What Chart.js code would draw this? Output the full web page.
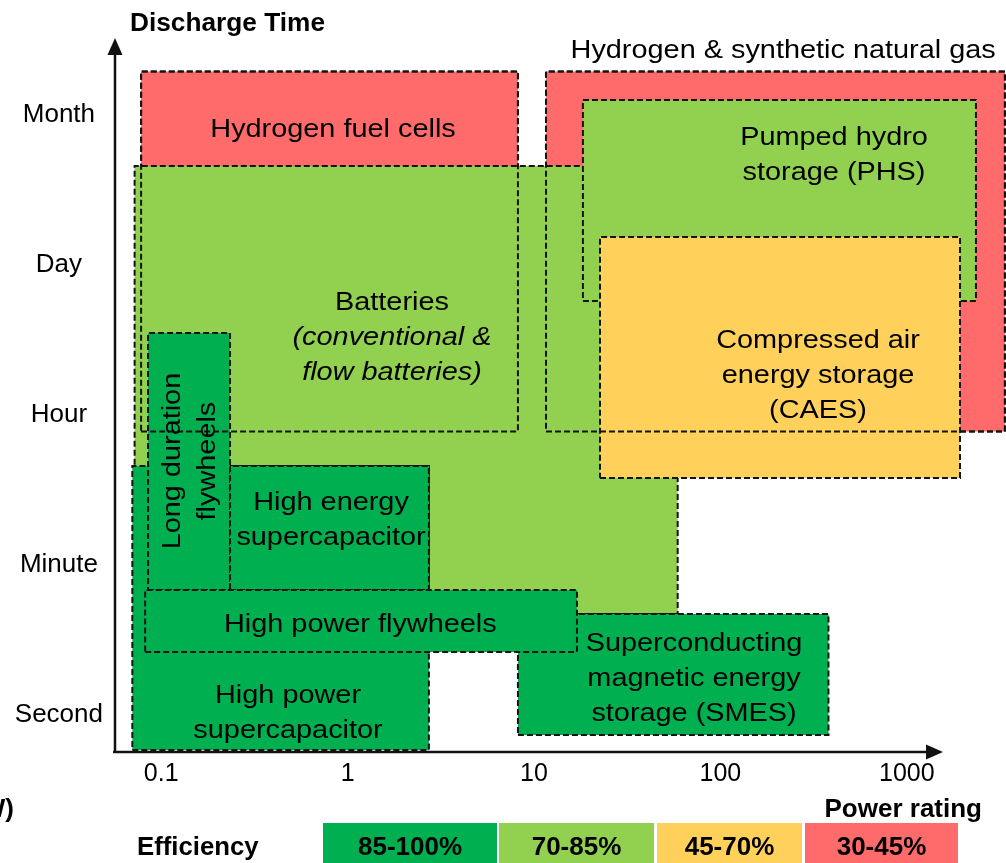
<!DOCTYPE html>
<html>
<head>
<meta charset="utf-8">
<script src="https://cdn.jsdelivr.net/npm/chart.js@4.4.1/dist/chart.umd.min.js"></script>
<style>
  html, body { margin: 0; padding: 0; background: #fff; overflow: hidden; }
  #container-storage { width: 1006px; height: 863px; position: relative; }
</style>
</head>
<body>
<div id="container-storage"><canvas id="chart-storage"></canvas></div>
<script>
// discharge time categories (y) and power rating ticks in MW (x, log)
const time_labels = ['Second', 'Minute', 'Hour', 'Day', 'Month']
const power_ticks = [0.1, 1, 10, 100, 1000]
const power_labels = ['0.1', '1', '10', '100', '1000']

// technologies, in drawing order (later ones cover earlier ones)
const techs = ['Hydrogen fuel cells', 'Hydrogen & synthetic natural gas', 'Batteries',
  'Pumped hydro storage (PHS)', 'Compressed air energy storage (CAES)', 'High power supercapacitor',
  'Long duration flywheels', 'High energy supercapacitor', 'Superconducting magnetic energy storage (SMES)',
  'High power flywheels']
const power_min = [0.078, 11.6, 0.072, 18.3, 22.6, 0.07, 0.085, 0.234, 8.2, 0.082]
const power_max = [8.2, 3360, 59, 2350, 1930, 2.73, 0.234, 2.73, 380, 17]
const time_min = [1.87, 1.87, 0.653, 2.74, 1.56, -0.253, 0.813, 0.813, -0.153, 0.40]
const time_max = [4.27, 4.27, 3.64, 4.08, 3.167, 1.64, 2.527, 1.64, 0.653, 0.813]
const efficiency_class = [3, 3, 1, 1, 2, 0, 0, 0, 0, 0]
const efficiency_labels = ['85-100%', '70-85%', '45-70%', '30-45%']
// outlines that sit on top of everything
const outline_on_top = [0, 1]

const eff_colors = ['#00B050', '#92D050', '#FFD05A', '#FF6B6B']
const FONT = '"Liberation Sans", Arial, sans-serif'

// where the text of each box goes (MW, time units)
const box_texts = [
  {lines: ['Hydrogen fuel cells'], x: 0.835, y: 3.9},
  {lines: ['Hydrogen & synthetic natural gas'], x: 217, y: 4.427},
  {lines: ['Batteries', '(conventional &', 'flow batteries)'], italic: [false, true, true], x: 1.73, y: 2.509},
  {lines: ['Pumped hydro', 'storage (PHS)'], x: 407, y: 3.727},
  {lines: ['Compressed air', 'energy storage', '(CAES)'], x: 334, y: 2.26},
  {lines: ['High power', 'supercapacitor'], x: 0.479, y: 0.01},
  {lines: ['Long duration', 'flywheels'], x: 0.143, y: 1.673, rotate: true},
  {lines: ['High energy', 'supercapacitor'], x: 0.815, y: 1.297},
  {lines: ['Superconducting', 'magnetic energy', 'storage (SMES)'], x: 72.2, y: 0.235},
  {lines: ['High power flywheels'], x: 1.17, y: 0.6},
]

function corners(i) {
  return [
    {x: power_min[i], y: time_min[i]},
    {x: power_max[i], y: time_min[i]},
    {x: power_max[i], y: time_max[i]},
    {x: power_min[i], y: time_max[i]},
    {x: power_min[i], y: time_min[i]},
  ]
}

const n_boxes = techs.length + outline_on_top.length
let datasets = techs.map((name, i) => ({
  label: name,
  data: corners(i),
  boxColor: eff_colors[efficiency_class[i]],
  order: n_boxes - i,
}))
outline_on_top.forEach(i => {
  datasets.push({label: techs[i] + ' outline', data: corners(i), order: 0})
})
datasets = datasets.map(ds => Object.assign(ds, {
  borderColor: '#141414',
  borderWidth: 2,
  borderDash: [6, 3],
  borderCapStyle: 'butt',
  borderJoinStyle: 'miter',
  pointRadius: 0,
  fill: false,
  tension: 0,
}))

// canvas 'middle' sits a bit high compared with the picture, so nudge down
function stretched_text(ctx, txt, x, y, font, stretch, align) {
  ctx.save()
  ctx.translate(x, y + 2.5)
  ctx.scale(stretch, 1)
  ctx.font = font
  ctx.textAlign = align
  ctx.textBaseline = 'middle'
  ctx.fillStyle = '#000'
  ctx.fillText(txt, 0, 0)
  ctx.restore()
}

const boxes_plugin = {
  id: 'boxes',
  beforeDatasetDraw(chart, args) {
    const ds = chart.data.datasets[args.index]
    if (!ds.boxColor) return
    const ctx = chart.ctx
    const pts = args.meta.data
    ctx.save()
    ctx.fillStyle = ds.boxColor
    ctx.beginPath()
    pts.forEach((p, i) => i ? ctx.lineTo(p.x, p.y) : ctx.moveTo(p.x, p.y))
    ctx.closePath()
    ctx.fill()
    ctx.restore()
  },
  afterDatasetsDraw(chart) {
    const ctx = chart.ctx
    const xs = chart.scales.x
    const ys = chart.scales.y
    const area = chart.chartArea
    const lh = 35

    // box texts
    box_texts.forEach(t => {
      const cx = xs.getPixelForValue(t.x)
      const cy = ys.getPixelForValue(t.y)
      const n = t.lines.length
      t.lines.forEach((line, k) => {
        const it = t.italic && t.italic[k] ? 'italic ' : ''
        const off = (k - (n - 1) / 2) * lh
        if (t.rotate) {
          ctx.save()
          ctx.translate(cx + off - 2.5, cy)
          ctx.rotate(-Math.PI / 2)
          stretched_text(ctx, line, 0, 0, it + '26px ' + FONT, 1.11, 'center')
          ctx.restore()
        } else {
          stretched_text(ctx, line, cx, cy + off, it + '26px ' + FONT, 1.11, 'center')
        }
      })
    })

    // axes with arrow heads
    const x0 = area.left
    const y0 = area.bottom
    ctx.save()
    ctx.strokeStyle = '#111'
    ctx.fillStyle = '#111'
    ctx.lineWidth = 2.5
    ctx.beginPath()
    ctx.moveTo(x0, y0 + 1)
    ctx.lineTo(x0, area.top + 22)
    ctx.moveTo(x0 - 2, y0)
    ctx.lineTo(x0 + 814, y0)
    ctx.stroke()
    ctx.beginPath()
    ctx.moveTo(x0, area.top + 8)
    ctx.lineTo(x0 - 7.5, area.top + 25)
    ctx.lineTo(x0 + 7.5, area.top + 25)
    ctx.closePath()
    ctx.fill()
    ctx.beginPath()
    ctx.moveTo(x0 + 828, y0)
    ctx.lineTo(x0 + 811, y0 - 7.5)
    ctx.lineTo(x0 + 811, y0 + 7.5)
    ctx.closePath()
    ctx.fill()
    ctx.restore()
  },
  afterDraw(chart) {
    const ctx = chart.ctx
    stretched_text(ctx, 'Discharge Time', 130, 22, 'bold 25px ' + FONT, 1.05, 'left')
    stretched_text(ctx, 'Power rating', 982, 807, 'bold 26px ' + FONT, 1, 'right')
    stretched_text(ctx, '(MW)', 14, 807, 'bold 26px ' + FONT, 1, 'right')

    // efficiency legend
    stretched_text(ctx, 'Efficiency', 137, 846, 'bold 25px ' + FONT, 1.03, 'left')
    const legend_x = [[323, 497], [499, 654], [657, 802], [805, 958]]
    efficiency_labels.forEach((lab, i) => {
      const [a, b] = legend_x[i]
      ctx.fillStyle = eff_colors[i]
      ctx.fillRect(a, 823, b - a, 40)
      stretched_text(ctx, lab, (a + b) / 2, 845, 'bold 26px ' + FONT, 1, 'center')
    })
  }
}

const canvas = document.getElementById('chart-storage')

let chart = new Chart(canvas, {
  type: 'line',
  data: { datasets: datasets },
  options: {
    responsive: true,
    maintainAspectRatio: false,
    animation: false,
    events: [],
    layout: { padding: { top: 30, right: 0, left: 0, bottom: 0 } },
    plugins: {
      legend: { display: false },
      tooltip: { enabled: false },
    },
    scales: {
      x: {
        type: 'logarithmic',
        min: 0.05651,
        max: 3406,
        grid: { display: false, drawTicks: false },
        border: { display: false },
        afterBuildTicks: scale => { scale.ticks = power_ticks.map(v => ({value: v})) },
        afterFit: scale => { scale.height = 111 },
        ticks: {
          autoSkip: false,
          maxRotation: 0,
          padding: 7,
          color: '#000',
          font: { family: FONT, size: 25 },
          callback: v => {
            const k = power_ticks.indexOf(v)
            return k >= 0 ? power_labels[k] : ''
          }
        }
      },
      y: {
        type: 'linear',
        min: -0.2667,
        max: 4.5467,
        grid: { display: false, drawTicks: false },
        border: { display: false },
        afterBuildTicks: scale => { scale.ticks = time_labels.map((t, i) => ({value: i})) },
        afterFit: scale => { scale.width = 115 },
        ticks: {
          crossAlign: 'center',
          padding: 12,
          labelOffset: 3,
          color: '#000',
          font: { family: FONT, size: 26 },
          callback: v => time_labels[v] ?? ''
        }
      }
    }
  },
  plugins: [boxes_plugin]
})
</script>
</body>
</html>
